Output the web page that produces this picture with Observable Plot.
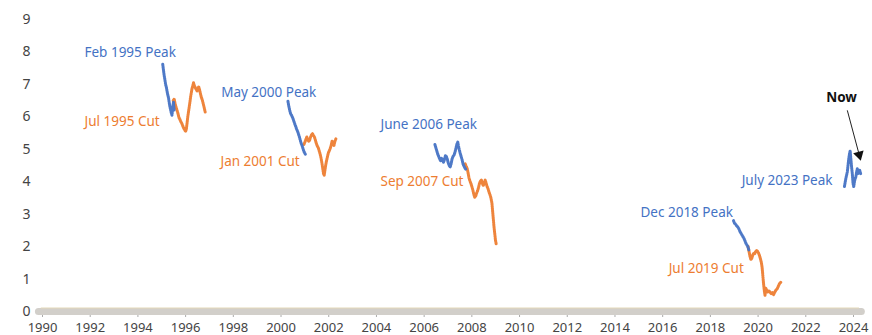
<!DOCTYPE html>
<html>
<head>
<meta charset="utf-8">
<script src="https://cdn.jsdelivr.net/npm/d3@7"></script>
<script src="https://cdn.jsdelivr.net/npm/@observablehq/plot@0.6"></script>
<style>
  html, body { margin: 0; padding: 0; background: #fff; }
  #chart svg { display: block; }
</style>
</head>
<body>
<div id="chart"></div>
<script>
// ---- data: [decimal year, 10y yield %] ----
const blue1995 = [
  [1995.04,7.62],[1995.07,7.45],[1995.10,7.28],[1995.13,7.15],[1995.16,7.0],[1995.19,6.92],[1995.22,6.8],
  [1995.25,6.68],[1995.28,6.6],[1995.31,6.45],[1995.34,6.32],[1995.37,6.22],[1995.40,6.12],[1995.43,6.05],
  [1995.46,6.3],[1995.49,6.45],[1995.52,6.2]
];
const orange1995 = [
  [1995.48,6.5],[1995.52,6.55],[1995.56,6.4],[1995.60,6.3],[1995.64,6.2],[1995.68,6.1],[1995.72,5.98],
  [1995.76,5.92],[1995.80,5.85],[1995.84,5.8],[1995.88,5.72],[1995.92,5.65],[1995.96,5.6],[1996.0,5.55],
  [1996.03,5.62],[1996.06,5.8],[1996.09,6.0],[1996.12,6.15],[1996.15,6.3],[1996.18,6.45],[1996.21,6.62],
  [1996.24,6.75],[1996.27,6.88],[1996.30,6.95],[1996.33,7.05],[1996.36,6.98],[1996.40,6.9],[1996.44,6.85],
  [1996.48,6.8],[1996.52,6.9],[1996.55,6.92],[1996.58,6.85],[1996.62,6.72],[1996.66,6.6],[1996.70,6.52],
  [1996.74,6.4],[1996.78,6.28],[1996.82,6.15]
];
const blue2000 = [
  [2000.29,6.48],[2000.32,6.35],[2000.35,6.25],[2000.38,6.15],[2000.41,6.08],[2000.44,6.05],[2000.47,6.0],
  [2000.50,5.95],[2000.53,5.88],[2000.56,5.82],[2000.59,5.75],[2000.62,5.7],[2000.65,5.62],[2000.68,5.58],
  [2000.71,5.52],[2000.74,5.45],[2000.77,5.38],[2000.80,5.3],[2000.83,5.22],[2000.86,5.15],[2000.89,5.1],
  [2000.92,5.02],[2000.95,4.95],[2000.98,4.9],[2001.02,4.85]
];
const orange2000 = [
  [2000.96,5.15],[2001.0,5.22],[2001.04,5.3],[2001.08,5.38],[2001.12,5.3],[2001.16,5.25],[2001.2,5.28],
  [2001.24,5.38],[2001.28,5.45],[2001.32,5.48],[2001.36,5.42],[2001.4,5.38],[2001.44,5.28],[2001.48,5.18],
  [2001.52,5.1],[2001.56,5.05],[2001.6,4.95],[2001.64,4.85],[2001.68,4.72],[2001.72,4.55],[2001.75,4.4],
  [2001.78,4.25],[2001.81,4.2],[2001.84,4.35],[2001.87,4.5],[2001.9,4.62],[2001.94,4.75],[2001.98,4.88],
  [2002.02,4.95],[2002.06,5.02],[2002.10,5.12],[2002.14,5.25],[2002.18,5.2],[2002.22,5.12],[2002.26,5.25],
  [2002.30,5.32]
];
const blue2006 = [
  [2006.45,5.15],[2006.49,5.05],[2006.53,4.95],[2006.57,4.85],[2006.61,4.78],[2006.65,4.7],[2006.69,4.65],
  [2006.73,4.72],[2006.77,4.68],[2006.81,4.6],[2006.85,4.68],[2006.89,4.8],[2006.93,4.78],[2006.97,4.7],
  [2007.01,4.58],[2007.05,4.5],[2007.09,4.45],[2007.13,4.55],[2007.17,4.7],[2007.21,4.78],[2007.25,4.82],
  [2007.29,4.9],[2007.33,5.02],[2007.37,5.15],[2007.41,5.22],[2007.44,5.1],[2007.47,5.0],[2007.51,4.88],
  [2007.55,4.78],[2007.59,4.68],[2007.63,4.55],[2007.67,4.48],[2007.71,4.42],[2007.75,4.38]
];
const orange2006 = [
  [2007.72,4.55],[2007.76,4.48],[2007.8,4.42],[2007.84,4.28],[2007.88,4.12],[2007.92,4.02],[2007.96,3.95],
  [2008.0,3.85],[2008.04,3.75],[2008.08,3.62],[2008.12,3.52],[2008.16,3.55],[2008.2,3.65],[2008.24,3.72],
  [2008.28,3.82],[2008.32,3.95],[2008.36,4.02],[2008.4,4.05],[2008.44,3.95],[2008.48,3.88],[2008.52,3.98],
  [2008.56,4.05],[2008.6,3.95],[2008.64,3.85],[2008.68,3.78],[2008.72,3.68],[2008.76,3.6],[2008.8,3.5],
  [2008.84,3.35],[2008.87,3.1],[2008.9,2.85],[2008.93,2.6],[2008.96,2.4],[2008.99,2.2],[2009.02,2.08]
];
const blue2018 = [
  [2018.97,2.8],[2019.01,2.72],[2019.05,2.7],[2019.09,2.65],[2019.13,2.62],[2019.17,2.58],[2019.21,2.52],
  [2019.25,2.45],[2019.29,2.4],[2019.33,2.35],[2019.37,2.3],[2019.41,2.25],[2019.45,2.18],[2019.49,2.1],
  [2019.53,2.05],[2019.57,2.0],[2019.61,1.9]
];
const orange2018 = [
  [2019.58,2.0],[2019.62,1.85],[2019.66,1.7],[2019.7,1.6],[2019.74,1.65],[2019.78,1.75],[2019.82,1.8],
  [2019.86,1.78],[2019.9,1.85],[2019.94,1.88],[2019.98,1.85],[2020.02,1.8],[2020.06,1.72],[2020.1,1.62],
  [2020.14,1.5],[2020.17,1.35],[2020.2,1.1],[2020.23,0.85],[2020.26,0.65],[2020.29,0.5],[2020.32,0.72],
  [2020.36,0.66],[2020.4,0.6],[2020.45,0.64],[2020.5,0.6],[2020.55,0.55],[2020.6,0.58],[2020.65,0.52],
  [2020.7,0.6],[2020.75,0.66],[2020.8,0.7],[2020.85,0.78],[2020.9,0.86],[2020.95,0.9]
];
const blue2023 = [
  [2023.62,3.85],[2023.65,3.98],[2023.68,4.1],[2023.71,4.2],[2023.74,4.3],[2023.77,4.5],[2023.8,4.7],
  [2023.83,4.85],[2023.86,4.95],[2023.89,4.7],[2023.92,4.45],[2023.95,4.25],[2023.98,3.95],[2024.01,3.85],
  [2024.04,4.0],[2024.07,4.1],[2024.1,4.15],[2024.13,4.3],[2024.16,4.4],[2024.19,4.25],[2024.22,4.3],
  [2024.26,4.35],[2024.3,4.25]
];

const xTicks = [1990,1992,1994,1996,1998,2000,2002,2004,2006,2008,2010,2012,2014,2016,2018,2020,2022,2024];
const yTicks = [0,1,2,3,4,5,6,7,8,9];

// annotation labels: [text, anchor year, anchor value]
const peakLabels = [
  ["Feb 1995 Peak", 1991.76, 7.99],
  ["May 2000 Peak", 1997.49, 6.73],
  ["June 2006 Peak", 2004.17, 5.77],
  ["Dec 2018 Peak", 2015.07, 3.05],
  ["July 2023 Peak", 2019.31, 4.04]
];
const cutLabels = [
  ["Jul 1995 Cut", 1991.76, 5.84],
  ["Jan 2001 Cut", 1997.46, 4.63],
  ["Sep 2007 Cut", 2004.17, 4.0],
  ["Jul 2019 Cut", 2016.25, 1.32]
];
const nowLabel = [["Now", 2023.5, 6.6]];
const nowArrow = [{x1: 2023.74, y1: 6.2, x2: 2024.28, y2: 4.72}];

const BLUE = "#4472c4";
const ORANGE = "#ed7d31";

const blueSeries = [blue1995, blue2000, blue2006, blue2018, blue2023];
const orangeSeries = [orange1995, orange2000, orange2006, orange2018];

const lineOpts = (color) => ({
  x: d => d[0], y: d => d[1], stroke: color, strokeWidth: 3,
  strokeDasharray: "1.4,0.9", curve: "linear", strokeOpacity: 0.95
});

const chart = Plot.plot({
  width: 872,
  height: 335,
  marginLeft: 42,
  marginRight: 19,
  marginTop: 19,
  marginBottom: 24,
  style: {fontFamily: "'Noto Sans', sans-serif", fontSize: "13px", color: "#444", background: "#fff"},
  x: {domain: [1990, 2024]},
  y: {domain: [0, 9]},
  marks: [
    Plot.axisX({ticks: xTicks, tickFormat: d => String(d), tickSize: 6, tickPadding: 5, stroke: "#aaa", label: null, fontSize: 13}),
    Plot.axisY({ticks: yTicks, tickSize: 0, tickPadding: 12, label: null, fontSize: 14}),
    Plot.ruleY([0], {x1: 1989.85, x2: 2024.35, stroke: "#d2cfca", strokeWidth: 7, strokeLinecap: "round"}),
    Plot.ruleY([0], {x1: 1989.95, x2: 2024.25, stroke: "#e3d8b8", strokeWidth: 1, dy: -3.5}),
    ...orangeSeries.map(s => Plot.line(s, lineOpts(ORANGE))),
    ...blueSeries.map(s => Plot.line(s, lineOpts(BLUE))),
    Plot.text(peakLabels, {x: d => d[1], y: d => d[2], text: d => d[0], fill: BLUE, textAnchor: "start", fontSize: 13.5}),
    Plot.text(cutLabels, {x: d => d[1], y: d => d[2], text: d => d[0], fill: ORANGE, textAnchor: "start", fontSize: 13.5}),
    Plot.text(nowLabel, {x: d => d[1], y: d => d[2], text: d => d[0], fill: "#111", fontWeight: "bold", textAnchor: "middle", fontSize: 13.5}),
    Plot.link(nowArrow, {x1: "x1", y1: "y1", x2: "x2", y2: "y2", stroke: "#222", strokeWidth: 1}),
    Plot.dot(nowArrow, {x: "x2", y: "y2", symbol: "triangle", r: 4, fill: "#111", stroke: "none", rotate: 165, dx: -1, dy: -3.5})
  ]
});
document.getElementById("chart").appendChild(chart);
</script>
</body>
</html>
